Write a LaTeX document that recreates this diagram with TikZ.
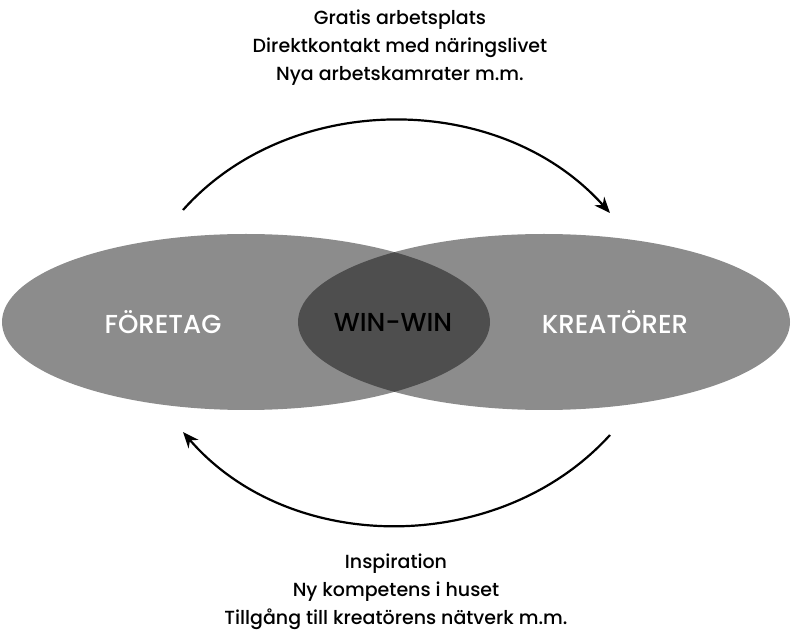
\documentclass[tikz,border=0pt]{standalone}
\usepackage{fontspec}
\setmainfont{Poppins}[UprightFont=* Medium]
\usetikzlibrary{arrows.meta}
\definecolor{ellgra}{HTML}{8C8C8C}
\definecolor{snittgra}{HTML}{4E4E4E}
\begin{document}
\begin{tikzpicture}[x=.5pt,y=.5pt,
  etikett/.style={font=\fontsize{9.5}{14}\selectfont,align=center},
  rubrik/.style={font=\fontsize{13}{13}\selectfont},
  pil/.style={line width=1.1pt,-{Stealth[length=8pt,width=6.5pt]}}]
\useasboundingbox (0,0) rectangle (800,644);
%
% ellipserna och snittet
\fill[ellgra] (246,322) ellipse (244 and 88);
\fill[ellgra] (544,322) ellipse (246 and 88);
\begin{scope}
\clip (246,322) ellipse (244 and 88);
\fill[snittgra] (544,322) ellipse (246 and 88);
\end{scope}
\node[rubrik,white] (foretag) at (163,322) {FÖRETAG};
\node[rubrik] (winwin) at (393,322) {WIN-WIN};
\node[rubrik,white] (kreatorer) at (615,322) {KREATÖRER};
%
% texter och pilar
\node[etikett] (ovan) at (400,596) {Gratis arbetsplats\\Direktkontakt med näringslivet\\Nya arbetskamrater m.m.};
\node[etikett] (nedan) at (396,52) {Inspiration\\Ny kompetens i huset\\Tillgång till kreatörens nätverk m.m.};
\coordinate (a1) at (183,434);
\coordinate (a2) at (610,431);
\coordinate (b1) at (610,209);
\coordinate (b2) at (183,212);
\draw[pil] (a1) .. controls (290,554) and (500,554) .. (a2);
\draw[pil] (b1) .. controls (500,88) and (290,88) .. (b2);
\end{tikzpicture}
\end{document}
